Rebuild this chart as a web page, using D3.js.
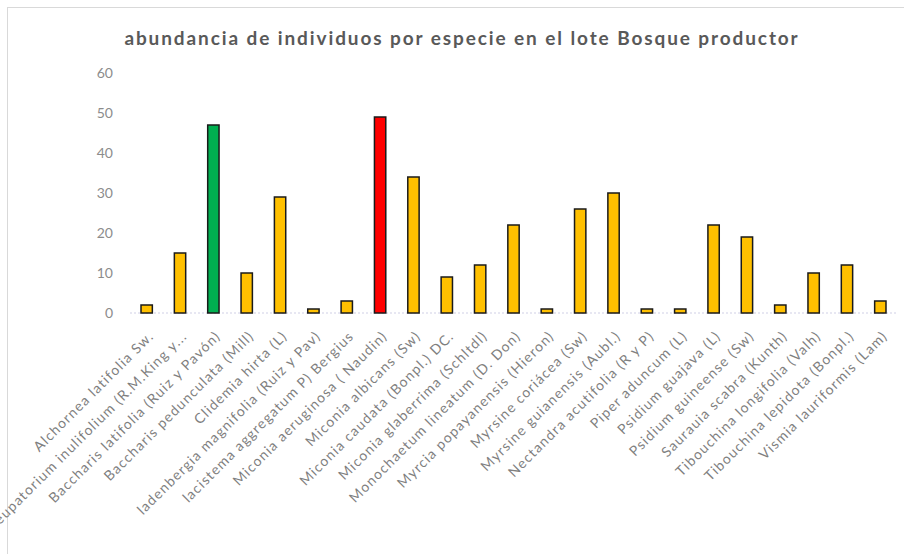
<!DOCTYPE html>
<html>
<head>
<meta charset="utf-8">
<script src="https://cdn.jsdelivr.net/npm/d3@7/dist/d3.min.js"></script>
<style>
  html, body { margin: 0; padding: 0; background: #fff; }
  svg { display: block; }
</style>
</head>
<body>
<svg id="chart" width="904" height="554"></svg>
<script>
const title = "abundancia  de individuos por especie en el lote Bosque productor";
const categories = [
  "Alchornea latifolia Sw.",
  "Austroeupatorium inulifolium (R.M.King y...",
  "Baccharis latifolia (Ruiz y Pavón)",
  "Baccharis pedunculata (Mill)",
  "Clidemia hirta (L)",
  "ladenbergia magnifolia (Ruiz y Pav)",
  "lacistema aggregatum P) Bergius",
  "Miconia aeruginosa ( Naudin)",
  "Miconia albicans (Sw)",
  "Miconia caudata (Bonpl.) DC.",
  "Miconia glaberrima (Schltdl)",
  "Monochaetum lineatum (D. Don)",
  "Myrcia popayanensis (Hieron)",
  "Myrsine coriácea (Sw)",
  "Myrsine guianensis (Aubl.)",
  "Nectandra acutifolia (R y P)",
  "Piper aduncum (L)",
  "Psidium guajava  (L)",
  "Psidium guineense (Sw)",
  "Saurauia scabra (Kunth)",
  "Tibouchina longifolia (Valh)",
  "Tibouchina lepidota (Bonpl.)",
  "Vismia lauriformis (Lam)"
];
const values = [2, 15, 47, 10, 29, 1, 3, 49, 34, 9, 12, 22, 1, 26, 30, 1, 1, 22, 19, 2, 10, 12, 3];
const barColors = ["#FFC000", "#FFC000", "#00B050", "#FFC000", "#FFC000", "#FFC000", "#FFC000", "#FF0000",
  "#FFC000", "#FFC000", "#FFC000", "#FFC000", "#FFC000", "#FFC000", "#FFC000", "#FFC000", "#FFC000",
  "#FFC000", "#FFC000", "#FFC000", "#FFC000", "#FFC000", "#FFC000"];
const yTicks = [0, 10, 20, 30, 40, 50, 60];

const svg = d3.select("#chart");
const font = "Lato, 'Open Sans', sans-serif";

// chart frame
svg.append("rect").attr("x", 7.5).attr("y", 7.5).attr("width", 920).attr("height", 560)
  .attr("fill", "#fff").attr("stroke", "#d9d9d9").attr("stroke-width", 1);

const x = d3.scaleBand().domain(categories).range([130, 897]).paddingInner(0.66).paddingOuter(0.33);
const y = d3.scaleLinear().domain([0, 60]).range([313, 73]);

// title
svg.append("text").attr("x", 462).attr("y", 45).attr("text-anchor", "middle")
  .attr("font-family", font).attr("font-weight", "bold").attr("font-size", 19)
  .attr("letter-spacing", 1.9)
  .attr("fill", "#595959").text(title);

// y axis
const yAxis = d3.axisLeft(y).tickValues(yTicks).tickSize(0).tickPadding(0);
const gy = svg.append("g").attr("transform", "translate(113,0)").call(yAxis);
gy.select(".domain").remove();
gy.selectAll("text").attr("font-family", font).attr("font-size", 14).attr("fill", "#8c8c8c");

// baseline
svg.append("line").attr("x1", 130).attr("x2", 897).attr("y1", y(0)).attr("y2", y(0))
  .attr("stroke", "#cfd0e6").attr("stroke-width", 1.2).attr("stroke-dasharray", "2,2");

// bars
svg.append("g").selectAll("rect").data(values).join("rect")
  .attr("x", (d, i) => x(categories[i]))
  .attr("y", d => y(d))
  .attr("width", x.bandwidth())
  .attr("height", d => y(0) - y(d))
  .attr("fill", (d, i) => barColors[i])
  .attr("stroke", "#1a1a1a").attr("stroke-width", 1.5);

// x axis labels
const xAxis = d3.axisBottom(x).tickSize(0).tickPadding(0);
const gx = svg.append("g").attr("transform", `translate(0,${y(0)})`).call(xAxis);
gx.select(".domain").remove();
gx.selectAll("text")
  .attr("font-family", font).attr("font-size", 14).attr("fill", "#7f7f7f")
  .attr("letter-spacing", 1.2)
  .attr("text-anchor", "end")
  .attr("dy", 0)
  .attr("transform", "translate(8,24) rotate(-45)");
</script>
</body>
</html>
